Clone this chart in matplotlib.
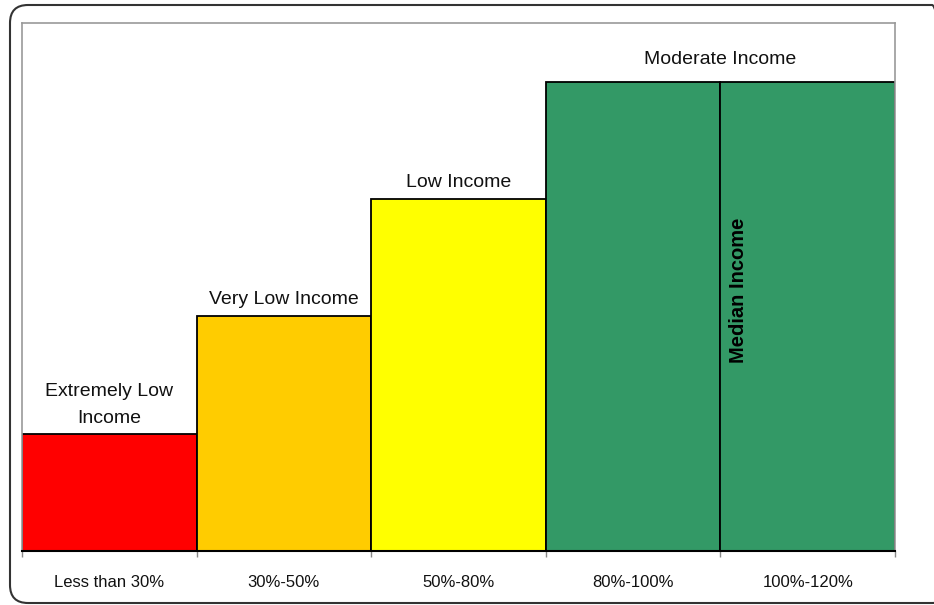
import matplotlib
matplotlib.use("Agg")
import matplotlib.pyplot as plt
from matplotlib.patches import FancyBboxPatch
from matplotlib.transforms import IdentityTransform

plt.rcParams['font.family'] = ['Liberation Sans', 'DejaVu Sans']

# data
categories = ['Less than 30%', '30%-50%', '50%-80%', '80%-100%', '100%-120%']
values = [1, 2, 3, 4, 4]
bar_colors = ['#FF0000', '#FFCC00', '#FFFF00', '#339966', '#339966']
groups = ['Extremely Low\nIncome', 'Very Low Income', 'Low Income', 'Moderate Income']
group_pos = [0, 1, 2, 3.5]
group_val = [1, 2, 3, 4]
median_label = 'Median Income'

# label offsets above the bars (points)
group_off = [4.5, 6, 6, 10]

W, H = 934, 605
fig = plt.figure(figsize=(W / 100, H / 100), dpi=100)
ax = fig.add_axes([22 / W, (H - 551) / H, (895 - 22) / W, (551 - 23) / H])

x = list(range(len(categories)))
ax.bar(x, values, width=1.0, color=bar_colors, edgecolor='black', linewidth=1.3, zorder=2)

ax.set_xlim(-0.5, len(categories) - 0.5)
ax.set_ylim(0, 4.5)
ax.set_yticks([])

# category labels centred, tick marks on the boundaries
ax.set_xticks(x)
ax.set_xticklabels(categories, fontsize=12, color='#111111')
ax.tick_params(axis='x', which='major', length=0, pad=17)
ax.set_xticks([i - 0.5 for i in range(len(categories) + 1)], minor=True)
ax.tick_params(axis='x', which='minor', length=4, color='#888888', width=1)

for side in ['left', 'top', 'right']:
    ax.spines[side].set_color('#999999')
    ax.spines[side].set_linewidth(1.2)
ax.spines['bottom'].set_color('black')
ax.spines['bottom'].set_linewidth(1.5)

for name, xp, v, off in zip(groups, group_pos, group_val, group_off):
    ax.annotate(name, (xp, v), xytext=(0, off), textcoords='offset points',
                ha='center', va='bottom', fontsize=14, color='#111111',
                multialignment='center', linespacing=1.78)

ax.text(3.605, 2.22, median_label, rotation=90, ha='center', va='center',
        fontsize=14.5, fontweight='bold', color='black', zorder=3)

# rounded outer frame, right side runs off the image
frame = FancyBboxPatch((10, 2), 940, 598, boxstyle='round,pad=0,rounding_size=18',
                       transform=IdentityTransform(), fill=False,
                       edgecolor='#333333', linewidth=1.5)
fig.patches.append(frame)

fig.savefig('out.png', dpi=100)
